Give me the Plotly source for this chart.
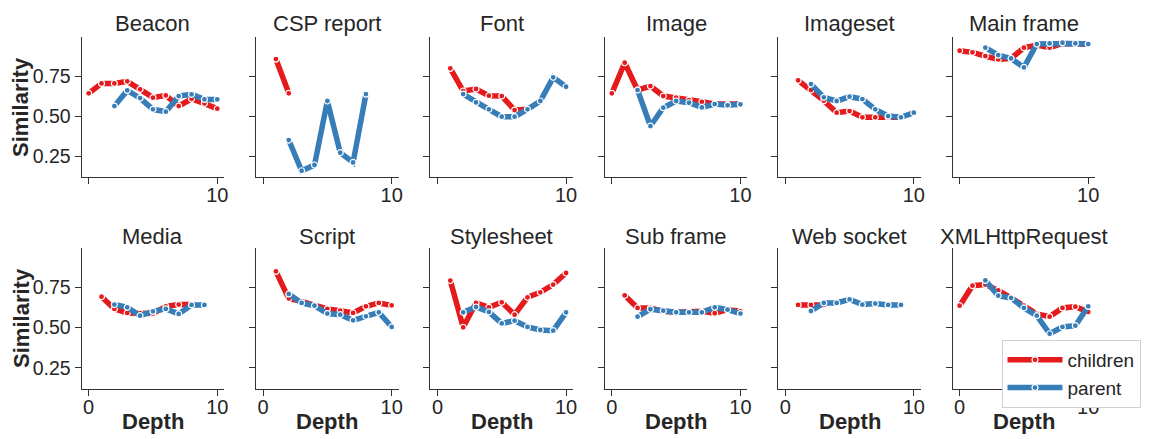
import plotly.graph_objects as go

depth = list(range(11))
categories = ["Beacon", "CSP report", "Font", "Image", "Imageset", "Main frame",
              "Media", "Script", "Stylesheet", "Sub frame", "Web socket", "XMLHttpRequest"]
N = None
children_beacon = [0.642, 0.704, 0.704, 0.717, 0.667, 0.615, 0.629, 0.562, 0.608, 0.579, 0.546]
parent_beacon = [N, N, 0.562, 0.66, 0.612, 0.542, 0.527, 0.625, 0.636, 0.604, 0.604]
children_csp = [N, 0.856, 0.642, N, N, N, N, N, N, N, N]
parent_csp = [N, N, 0.35, 0.158, 0.194, 0.594, 0.271, 0.21, 0.637, N, N]
children_font = [N, 0.798, 0.656, 0.669, 0.627, 0.625, 0.5375, 0.542, N, N, N]
parent_font = [N, N, 0.6375, 0.585, 0.542, 0.496, 0.496, 0.542, 0.594, 0.742, 0.683]
children_image = [0.642, 0.833, 0.6625, 0.6875, 0.625, 0.615, 0.6, 0.589, 0.575, 0.573, 0.575]
parent_image = [N, N, 0.6625, 0.4375, 0.552, 0.594, 0.583, 0.554, 0.575, 0.567, 0.573]
children_imageset = [N, 0.723, 0.6625, 0.596, 0.521, 0.531, 0.492, 0.492, 0.492, 0.492, N]
parent_imageset = [N, N, 0.70, 0.617, 0.594, 0.621, 0.606, 0.542, 0.5, 0.492, 0.521]
children_mainframe = [0.908, 0.898, 0.875, 0.854, 0.86, 0.927, 0.944, 0.927, 0.954, 0.948, 0.948]
parent_mainframe = [N, N, 0.927, 0.881, 0.86, 0.804, 0.95, 0.954, 0.958, 0.954, 0.95]
children_media = [N, 0.692, 0.616, 0.591, 0.589, 0.587, 0.632, 0.643, 0.643, N, N]
parent_media = [N, N, 0.643, 0.626, 0.574, 0.601, 0.616, 0.585, 0.641, 0.641, N]
children_script = [N, 0.849, 0.68, 0.663, 0.638, 0.616, 0.605, 0.591, 0.632, 0.653, 0.638]
parent_script = [N, N, 0.709, 0.653, 0.636, 0.587, 0.58, 0.545, 0.57, 0.595, 0.504]
children_stylesheet = [N, 0.792, 0.502, 0.653, 0.626, 0.657, 0.58, 0.688, 0.719, 0.767, 0.839]
parent_stylesheet = [N, N, 0.595, 0.628, 0.597, 0.526, 0.543, 0.504, 0.485, 0.481, 0.595]
children_subframe = [N, 0.70, 0.622, 0.622, 0.601, 0.595, 0.595, 0.601, 0.589, 0.611, 0.601]
parent_subframe = [N, N, 0.568, 0.614, 0.605, 0.595, 0.595, 0.595, 0.626, 0.611, 0.587]
children_websocket = [N, 0.641, 0.641, 0.641, N, N, N, N, N, N, N]
parent_websocket = [N, N, 0.603, 0.653, 0.653, 0.675, 0.643, 0.649, 0.641, 0.641, N]
children_xhr = [0.636, 0.76, 0.767, 0.731, 0.684, 0.636, 0.585, 0.568, 0.622, 0.63, 0.597]
parent_xhr = [N, N, 0.793, 0.698, 0.684, 0.622, 0.574, 0.462, 0.504, 0.512, 0.632]

children_all = [children_beacon, children_csp, children_font, children_image, children_imageset,
                children_mainframe, children_media, children_script, children_stylesheet,
                children_subframe, children_websocket, children_xhr]
parent_all = [parent_beacon, parent_csp, parent_font, parent_image, parent_imageset,
              parent_mainframe, parent_media, parent_script, parent_stylesheet,
              parent_subframe, parent_websocket, parent_xhr]

W, H = 1149, 439
RED = "#e41a1c"
BLUE = "#377eb8"
TXT = "#262626"
FONT = "Liberation Sans, Arial, sans-serif"

col_left = [82, 257, 432, 607, 781, 956]
pw = 143
rows_px = [(37, 177), (248, 389)]

fig = go.Figure()
layout = dict(
    width=W, height=H, margin=dict(l=0, r=0, t=0, b=0),
    paper_bgcolor="white", plot_bgcolor="white",
    font=dict(family=FONT, color=TXT),
    showlegend=True,
    legend=dict(x=1005 / W, y=1 - 340 / H, xanchor="left", yanchor="top",
                bgcolor="white", bordercolor="#d0d0d0", borderwidth=1,
                itemwidth=55,
                font=dict(size=19, color=TXT), tracegroupgap=0),
)
annotations = []
for i, cat in enumerate(categories):
    r, c = divmod(i, 6)
    k = i + 1
    xa = "x" if k == 1 else f"x{k}"
    ya = "y" if k == 1 else f"y{k}"
    x0 = col_left[c]
    top, bot = rows_px[r]
    fig.add_trace(go.Scatter(
        x=depth, y=children_all[i], xaxis=xa, yaxis=ya, mode="lines+markers",
        name="children", legendgroup="children", showlegend=(i == 0),
        line=dict(color=RED, width=5.5),
        marker=dict(size=6, color=RED, line=dict(color="white", width=1.2))))
    fig.add_trace(go.Scatter(
        x=depth, y=parent_all[i], xaxis=xa, yaxis=ya, mode="lines+markers",
        name="parent", legendgroup="parent", showlegend=(i == 0),
        line=dict(color=BLUE, width=5.5),
        marker=dict(size=6, color=BLUE, line=dict(color="white", width=1.2))))
    xkey = "xaxis" if k == 1 else f"xaxis{k}"
    ykey = "yaxis" if k == 1 else f"yaxis{k}"
    layout[xkey] = dict(
        domain=[x0 / W, (x0 + pw) / W], anchor=ya, range=[-0.54, 10.54],
        showline=True, linecolor="#333333", linewidth=1.3, showgrid=False, zeroline=False,
        ticks="outside", ticklen=6, tickwidth=1.3, tickcolor="#333333",
        ticklabelstandoff=-6,
        tickvals=[0, 10], ticktext=(["", "10"] if r == 0 else ["0", "10"]),
        tickfont=dict(size=20, color=TXT, family=FONT))
    layout[ykey] = dict(
        domain=[1 - bot / H, 1 - top / H], anchor=xa, range=[0.119, 0.994],
        showline=True, linecolor="#333333", linewidth=1.3, showgrid=False, zeroline=False,
        ticks="outside", ticklen=6, tickwidth=1.3, tickcolor="#333333",
        tickvals=[0.25, 0.5, 0.75], ticktext=["0.25", "0.50", "0.75"],
        showticklabels=(c == 0),
        tickfont=dict(size=19.5, color=TXT, family=FONT))
    annotations.append(dict(
        text=cat, xref="paper", yref="paper", x=(x0 + pw / 2) / W,
        y=1 - (24 if r == 0 else 236) / H, xanchor="center", yanchor="middle",
        showarrow=False, font=dict(size=22, color=TXT, family=FONT)))
    if r == 1:
        annotations.append(dict(
            text="<b>Depth</b>", xref="paper", yref="paper", x=(x0 + pw / 2) / W,
            y=1 - 421 / H, xanchor="center", yanchor="middle",
            showarrow=False, font=dict(size=22, color=TXT, family=FONT)))

for yc in [107, 318]:
    annotations.append(dict(
        text="<b>Similarity</b>", xref="paper", yref="paper", x=21 / W, y=1 - yc / H,
        xanchor="center", yanchor="middle", textangle=-90, showarrow=False,
        font=dict(size=22, color=TXT, family=FONT)))

layout["annotations"] = annotations
fig.update_layout(**layout)
fig.write_html("out.html")
